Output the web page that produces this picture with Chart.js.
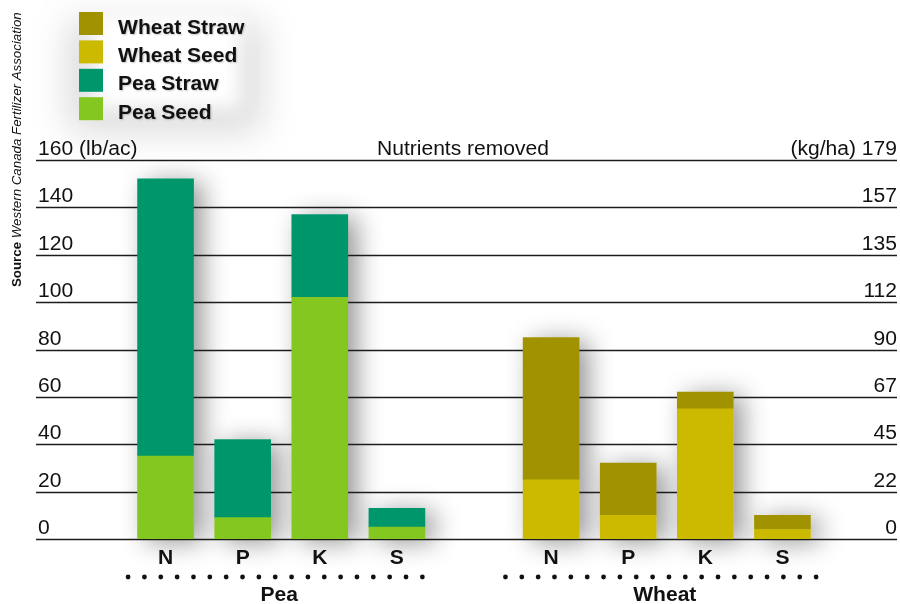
<!DOCTYPE html>
<html>
<head>
<meta charset="utf-8">
<title>Nutrients removed</title>
<script src="https://cdn.jsdelivr.net/npm/chart.js@4/dist/chart.umd.min.js"></script>
<style>
  html, body { margin: 0; padding: 0; background: #ffffff; }
  canvas { display: block; }
</style>
</head>
<body>
<canvas id="chart" width="900" height="604"></canvas>
<script>
// Nutrient categories; the blank slot separates the two crops
const categories = ['N', 'P', 'K', 'S', '', 'N', 'P', 'K', 'S'];
const cropNames = ['Pea', 'Wheat'];
const cropSlots = [[0, 3], [5, 8]];

// Nutrients removed, lb/ac (seed at the bottom of each stack, straw on top)
const peaSeed    = [35, 9, 102, 5, null, null, null, null, null];
const peaStraw   = [117, 33, 35, 8, null, null, null, null, null];
const wheatSeed  = [null, null, null, null, null, 25, 10, 55, 4];
const wheatStraw = [null, null, null, null, null, 60, 22, 7, 6];

// Axis ticks: lb/ac on the left, kg/ha on the right
const lbTicks  = [0, 20, 40, 60, 80, 100, 120, 140, 160];
const lbLabels = ['0', '20', '40', '60', '80', '100', '120', '140', '160 (lb/ac)'];
const kgLabels = ['0', '22', '45', '67', '90', '112', '135', '157', '(kg/ha) 179'];

const COLORS = {
  wheatStraw: '#A09200',
  wheatSeed: '#CBBA00',
  peaStraw: '#00966C',
  peaSeed: '#83C720'
};

const FONT = '"Liberation Sans", Arial, Helvetica, sans-serif';
const STRETCH = 1.08;

function drawText(ctx, txt, x, y, align, font, color) {
  ctx.save();
  ctx.translate(x, y);
  ctx.scale(STRETCH, 1);
  ctx.font = font;
  ctx.fillStyle = color || '#111111';
  ctx.textAlign = align;
  ctx.textBaseline = 'alphabetic';
  ctx.fillText(txt, 0, 0);
  ctx.restore();
}

// Soft drop shadows under each stacked column, then the full-width rules
const shadowAndRules = {
  id: 'shadowAndRules',
  beforeDatasetsDraw(chart) {
    const ctx = chart.ctx;
    const stacks = {};
    chart.data.datasets.forEach((ds, di) => {
      const meta = chart.getDatasetMeta(di);
      meta.data.forEach((el, i) => {
        if (ds.data[i] == null) return;
        const p = el.getProps(['x', 'y', 'base', 'width'], true);
        const s = stacks[i] || (stacks[i] = { x: p.x, w: p.width, top: p.y, bottom: p.base });
        s.top = Math.min(s.top, p.y, p.base);
        s.bottom = Math.max(s.bottom, p.y, p.base);
      });
    });
    ctx.save();
    ctx.shadowColor = 'rgba(0,0,0,0.42)';
    ctx.shadowBlur = 26;
    ctx.shadowOffsetX = 9;
    ctx.shadowOffsetY = 3;
    ctx.fillStyle = '#ffffff';
    Object.values(stacks).forEach(s => {
      ctx.fillRect(s.x - s.w / 2, s.top, s.w, s.bottom - s.top);
    });
    ctx.restore();

    const y = chart.scales.y;
    ctx.save();
    ctx.strokeStyle = '#1c1c1c';
    ctx.lineWidth = 1.4;
    lbTicks.forEach(v => {
      const py = Math.round(y.getPixelForValue(v)) + 0.5;
      ctx.beginPath();
      ctx.moveTo(36, py);
      ctx.lineTo(897, py);
      ctx.stroke();
    });
    ctx.restore();
  },
  beforeDraw(chart) {
    // Diffuse haze behind the legend block
    const ctx = chart.ctx;
    ctx.save();
    ctx.filter = 'blur(18px)';
    ctx.fillStyle = 'rgba(0,0,0,0.16)';
    ctx.fillRect(70, 20, 190, 110);
    ctx.filter = 'none';
    ctx.fillStyle = '#ffffff';
    ctx.filter = 'blur(10px)';
    ctx.fillRect(92, 14, 150, 96);
    ctx.restore();
  },
  afterDraw(chart) {
    const ctx = chart.ctx;
    const x = chart.scales.x;
    const y = chart.scales.y;
    const reg = '19.5px ' + FONT;
    const bold = 'bold 19.5px ' + FONT;

    // Axis labels sitting on top of each rule
    lbTicks.forEach((v, i) => {
      const py = Math.round(y.getPixelForValue(v)) - 5;
      drawText(ctx, lbLabels[i], 38, py, 'left', reg);
      drawText(ctx, kgLabels[i], 897, py, 'right', reg);
    });
    drawText(ctx, 'Nutrients removed', 463, Math.round(y.getPixelForValue(160)) - 5, 'center', reg);

    // Nutrient letters under the columns
    categories.forEach((c, i) => {
      if (!c) return;
      drawText(ctx, c, x.getPixelForValue(i), 564, 'center', bold);
    });

    // Dotted rule and crop name under each group
    cropNames.forEach((name, g) => {
      const a = x.getPixelForValue(cropSlots[g][0]);
      const b = x.getPixelForValue(cropSlots[g][1]);
      const mid = (a + b) / 2;
      const n = g === 0 ? 19 : 20;
      const gap = 16.35;
      const start = mid - 6 - gap * (n - 1) / 2;
      ctx.save();
      ctx.fillStyle = '#111111';
      for (let k = 0; k < n; k++) {
        ctx.beginPath();
        ctx.arc(start + k * gap, 577, 2.4, 0, Math.PI * 2);
        ctx.fill();
      }
      ctx.restore();
      drawText(ctx, name, mid - 2, 601, 'center', bold);
    });

    // Legend block
    const items = chart.data.datasets.slice().reverse();
    items.forEach((ds, k) => {
      const top = 12 + k * 28.4;
      ctx.fillStyle = ds.backgroundColor;
      ctx.fillRect(79, top, 24, 23);
      ctx.save();
      ctx.shadowColor = 'rgba(0,0,0,0.22)';
      ctx.shadowBlur = 2;
      ctx.shadowOffsetX = 1;
      ctx.shadowOffsetY = 1;
      drawText(ctx, ds.label, 118, top + 21.5, 'left', bold);
      ctx.restore();
    });

    // Vertical source note
    ctx.save();
    ctx.translate(20.5, 287);
    ctx.rotate(-Math.PI / 2);
    ctx.fillStyle = '#111111';
    ctx.textBaseline = 'alphabetic';
    ctx.textAlign = 'left';
    ctx.font = 'bold 13.3px ' + FONT;
    ctx.fillText('Source', 0, 0);
    const w = ctx.measureText('Source').width;
    ctx.font = 'italic 13.3px ' + FONT;
    ctx.fillText(' Western Canada Fertilizer Association', w, 0);
    ctx.restore();
  }
};

new Chart(document.getElementById('chart'), {
  type: 'bar',
  data: {
    labels: categories,
    datasets: [
      { label: 'Pea Seed', data: peaSeed, backgroundColor: COLORS.peaSeed, stack: 'crop' },
      { label: 'Pea Straw', data: peaStraw, backgroundColor: COLORS.peaStraw, stack: 'crop' },
      { label: 'Wheat Seed', data: wheatSeed, backgroundColor: COLORS.wheatSeed, stack: 'crop' },
      { label: 'Wheat Straw', data: wheatStraw, backgroundColor: COLORS.wheatStraw, stack: 'crop' }
    ]
  },
  options: {
    responsive: false,
    animation: false,
    devicePixelRatio: 1,
    barThickness: 56,
    borderWidth: 0,
    layout: { padding: { left: 127, right: 79, top: 160, bottom: 65 } },
    scales: {
      x: { display: false, stacked: true },
      y: { display: false, stacked: true, min: 0, max: 160 }
    },
    plugins: {
      legend: { display: false },
      tooltip: { enabled: false }
    }
  },
  plugins: [shadowAndRules]
});
</script>
</body>
</html>
